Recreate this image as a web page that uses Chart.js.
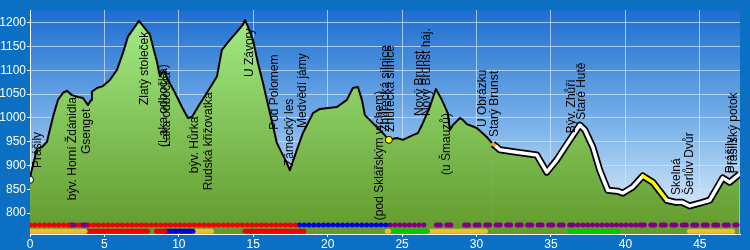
<!DOCTYPE html>
<html>
<head>
<meta charset="utf-8">
<script src="https://cdn.jsdelivr.net/npm/chart.js@4/dist/chart.umd.min.js"></script>
<style>
  html, body { margin: 0; padding: 0; background: #0b6fc4; }
  canvas { display: block; }
</style>
</head>
<body>
<canvas id="profil" width="750" height="250"></canvas>
<script>
// vyskovy profil trasy (km, m n. m.)
const profileKm = [0, 0.07, 0.47, 0.81, 1.14, 1.54, 1.88, 2.22, 2.48, 2.82, 3.22, 3.56, 3.90, 4.10, 4.16, 4.50, 4.90, 5.37, 5.84, 6.25,
  6.58, 7.32, 8.06, 8.26, 8.53, 8.73, 8.93, 9.07, 9.20, 9.74, 10.21, 10.61, 10.88, 11.28, 11.89, 12.56, 12.89, 13.43, 13.90, 14.30,
  14.44, 14.64, 14.98, 15.31, 15.65, 16.59, 17.26, 17.46, 17.93, 18.33, 19.01, 19.48, 20.62, 21.29, 21.69, 22.03, 22.30, 22.50, 23.17, 23.71,
  24.11, 24.65, 25.05, 25.72, 26.06, 26.39, 26.86, 27.27, 27.67, 28.07, 28.21, 28.41, 28.88, 29.08, 29.35, 30.02, 30.69, 31.10, 31.36, 31.56,
  32.71, 34.05, 34.72, 35.39, 36.27, 36.94, 37.27, 37.81, 38.28, 38.82, 39.49, 39.83, 40.50, 41.17, 41.84, 42.78, 43.32, 43.79, 44.32, 45.00,
  45.67, 46.54, 47.01, 47.68];
const profileElev = [870, 885, 935, 939, 950, 1002, 1038, 1053, 1057, 1048, 1044, 1042, 1027, 1038, 1055, 1063, 1067, 1080, 1101, 1137,
  1171, 1204, 1175, 1150, 1118, 1087, 1097, 1097, 1084, 1053, 1023, 1000, 1002, 1023, 1053, 1087, 1143, 1164, 1181, 1196,
  1206, 1192, 1164, 1116, 1074, 947, 905, 890, 933, 968, 1010, 1019, 1023, 1038, 1063, 1065, 1038, 1006, 985, 968,
  954, 958, 954, 964, 968, 989, 1023, 1061, 1038, 1010, 975, 985, 1000, 996, 987, 979, 960, 945, 939, 933,
  928, 922, 886, 912, 954, 985, 975, 939, 890, 848, 846, 842, 855, 878, 865, 827, 823, 823, 815, 821,
  827, 874, 865, 882];

// popisky os
const xTicks = [0, 5, 10, 15, 20, 25, 30, 35, 40, 45];
const yTicks = [800, 850, 900, 950, 1000, 1050, 1100, 1150, 1200];

// useky trasy: zvyraznena (bila) cast a barevne kousky
const trailFrom = 31.10;
const orangeStretch = [31.10, 31.36];
const yellowStretch = [41.17, 42.78];

// body na trase
const pointKm = [0, 24.11];
const pointElev = [870, 954];
const pointColor = ['white', 'yellow'];

// popisky mist
const placeNames = ['Prášily', 'býv. Horní Ždánidla', 'Gsenget', 'Zlatý stoleček', '(Laka odbočka)', 'Laka odbočka',
  'býv. Hůrka', 'Rudská křižovatka', 'U Závory', 'Pod Polomem', 'Zámecký les', 'Medvědí jámy',
  '(pod Sklářským vrchem)', 'Zhůřecká silnice', 'Zhůřecká silnice', 'Nový Brunst', 'Nový Brunst háj.', '(u Šmauzů)',
  'U Obrázku', 'Starý Brunst', 'Býv. Zhůří', 'Staré Hutě', 'Skelná', 'Šerlův Dvůr', 'Prášily', 'Prášilský potok'];
const placeKm = [0.54, 2.89, 3.83, 7.72, 8.95, 9.2,
  11.08, 12.02, 14.77, 16.45, 17.46, 18.33,
  23.5, 23.9, 24.2, 26.2, 26.62, 28.0,
  30.42, 31.23, 36.4, 37.07, 43.45, 44.32, 47.08, 47.25];
const placeBase = [895, 827, 924, 1027, 939, 939,
  884, 848, 1086, 975, 899, 979,
  785, 971, 971, 1004, 1004, 880,
  981, 960, 968, 996, 838, 838, 884, 884];

// turisticke znaceni (tecky): od, do, barva, druh
const markFrom = [0, 2.7, 3.25, 3.5, 3.95, 18.1, 24.2, 27.3, 29.2, 36.5, 41.0];
const markTo = [2.65, 3.2, 3.45, 3.9, 18.0, 24.05, 26.7, 28.5, 36.4, 40.8, 47.5];
const markColor = ['red', 'purple', 'red', 'purple', 'red', 'blue', 'purple', 'purple', 'purple', 'purple', 'purple'];
const markKind = ['dot', 'dash', 'dot', 'dash', 'dot', 'dot', 'dot', 'dash', 'dash', 'dot', 'dash'];

// povrch / typ cesty (pruhy)
const barFrom = [0, 3.7, 8.5, 9.07, 10.95, 14.45, 24.0, 24.1, 26.7, 28.3, 36.3, 44.3];
const barTo = [3.7, 7.9, 9.07, 10.95, 12.2, 18.4, 24.1, 26.7, 28.1, 30.6, 39.5, 47.2];
const barColor = ['gold', 'red', 'red', 'blue', 'gold', 'red', 'gold', 'green', 'gold', 'gold', 'green', 'gold'];

const palette = { red: '#f00000', blue: '#0000e0', purple: '#800080', green: '#00c800', gold: '#f0bc30',
  white: '#ffffff', yellow: '#ffff00', orange: '#f4a830' };

const ROW_DOTS = 775;
const ROW_BARS = 762;

const profile = profileKm.map((k, i) => ({ x: k, y: profileElev[i] }));

const inside = (x, r) => x >= r[0] && x < r[1];

const markSets = markFrom.map((f, i) => ({
  data: [{ x: f, y: ROW_DOTS }, { x: markTo[i], y: ROW_DOTS }],
  borderColor: palette[markColor[i]],
  borderWidth: 5,
  borderCapStyle: 'round',
  borderDash: markKind[i] === 'dot' ? [0, 4.8] : [4, 6.5],
  pointRadius: 0,
  fill: false,
  order: 1
}));

const barSets = barFrom.map((f, i) => ({
  data: [{ x: f, y: ROW_BARS }, { x: barTo[i], y: ROW_BARS }],
  borderColor: palette[barColor[i]],
  borderWidth: 5,
  borderCapStyle: 'round',
  pointRadius: 0,
  fill: false,
  order: 1
}));

// pozadi platna a plochy grafu
const backdrop = {
  id: 'backdrop',
  beforeDraw(chart) {
    const { ctx, chartArea: a } = chart;
    ctx.save();
    ctx.fillStyle = '#0b6fc4';
    ctx.fillRect(0, 0, chart.width, chart.height);
    const g = ctx.createLinearGradient(0, a.top, 0, a.bottom);
    g.addColorStop(0, '#1d6dcf');
    g.addColorStop(0.5, '#78b0e8');
    g.addColorStop(1, '#eef6fd');
    ctx.fillStyle = g;
    ctx.fillRect(a.left, a.top, a.right - a.left, a.bottom - a.top);
    ctx.restore();
  }
};

// svisle popisky mist
const placeLabels = {
  id: 'placeLabels',
  afterDatasetsDraw(chart) {
    const { ctx, scales: { x, y } } = chart;
    ctx.save();
    ctx.font = '12px "Liberation Sans", Arial, sans-serif';
    ctx.fillStyle = '#000';
    ctx.textAlign = 'left';
    ctx.textBaseline = 'middle';
    placeNames.forEach((name, i) => {
      ctx.save();
      ctx.translate(x.getPixelForValue(placeKm[i]), y.getPixelForValue(placeBase[i]));
      ctx.rotate(-Math.PI / 2);
      ctx.fillText(name, 0, 0);
      ctx.restore();
    });
    ctx.restore();
  }
};

new Chart(document.getElementById('profil'), {
  type: 'line',
  data: {
    datasets: [
      {
        // body
        data: pointKm.map((k, i) => ({ x: k, y: pointElev[i] })),
        showLine: false,
        pointRadius: 3.5,
        pointBackgroundColor: pointColor.map(c => palette[c]),
        pointBorderColor: '#000',
        pointBorderWidth: 1,
        order: 0
      },
      {
        // bila zvyraznena trasa
        data: profile,
        borderWidth: 3.5,
        borderJoinStyle: 'round',
        borderCapStyle: 'round',
        pointRadius: 0,
        fill: false,
        segment: {
          borderColor: c => {
            const k = c.p0.parsed.x;
            if (k < trailFrom) return 'rgba(0,0,0,0)';
            if (inside(k, orangeStretch)) return palette.orange;
            if (inside(k, yellowStretch)) return palette.yellow;
            return palette.white;
          }
        },
        order: 2
      },
      ...markSets,
      ...barSets,
      {
        // profil s vyplni
        data: profile,
        borderColor: '#000',
        borderJoinStyle: 'round',
        pointRadius: 0,
        fill: 'start',
        backgroundColor: c => {
          const { ctx, chartArea } = c.chart;
          if (!chartArea) return '#80c060';
          const g = ctx.createLinearGradient(0, chartArea.top, 0, chartArea.bottom);
          g.addColorStop(0, '#a4ee88');
          g.addColorStop(1, '#629a2c');
          return g;
        },
        segment: {
          borderWidth: c => (c.p0.parsed.x >= trailFrom ? 7 : 2)
        },
        order: 5
      }
    ]
  },
  options: {
    responsive: false,
    animation: false,
    layout: { padding: { top: 10, right: 10, left: 0, bottom: 0 } },
    plugins: { legend: { display: false }, tooltip: { enabled: false } },
    scales: {
      x: {
        type: 'linear',
        min: 0,
        max: 47.7,
        afterBuildTicks: s => { s.ticks = xTicks.map(v => ({ value: v })); },
        afterFit: s => { s.height = 16; },
        ticks: {
          color: '#fff',
          padding: 0,
          maxRotation: 0,
          autoSkip: false,
          callback: v => String(v),
          font: { family: '"Liberation Sans", Arial', size: 12 }
        },
        grid: { color: 'rgba(200,228,255,0.75)', tickColor: '#fff', tickLength: 3 },
        border: { color: '#fff' }
      },
      y: {
        min: 756,
        max: 1227,
        afterBuildTicks: s => { s.ticks = yTicks.map(v => ({ value: v })); },
        afterFit: s => { s.width = 30; },
        ticks: {
          color: '#fff',
          padding: 1,
          autoSkip: false,
          callback: v => String(v),
          font: { family: '"Liberation Sans", Arial', size: 12 }
        },
        grid: { color: 'rgba(200,228,255,0.75)', tickColor: '#fff', tickLength: 3 },
        border: { color: '#fff' }
      }
    }
  },
  plugins: [backdrop, placeLabels]
});
</script>
</body>
</html>
